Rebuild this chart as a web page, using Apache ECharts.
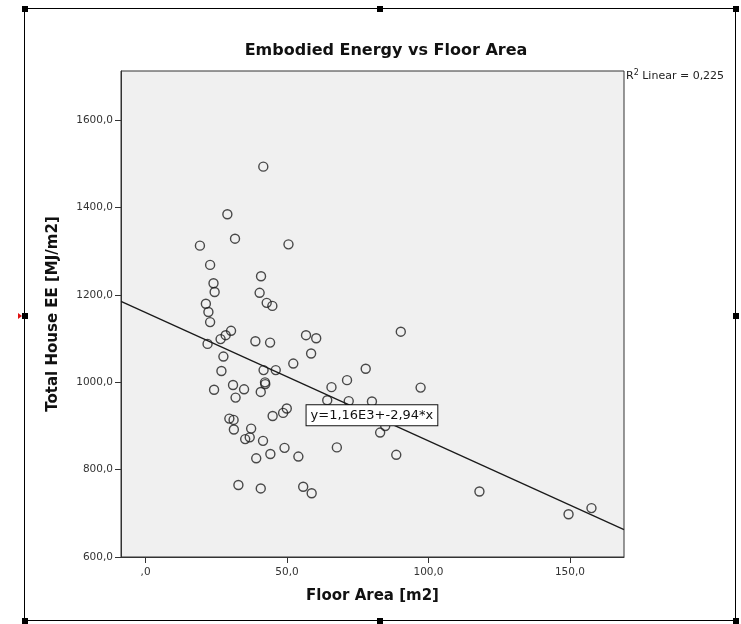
<!DOCTYPE html>
<html>
<head>
<meta charset="utf-8">
<title>Embodied Energy vs Floor Area</title>
<script src="https://cdn.jsdelivr.net/npm/echarts@6/dist/echarts.min.js"></script>
<style>
  html, body { margin: 0; padding: 0; background: #ffffff; }
  #chart { width: 741px; height: 624px; }
</style>
</head>
<body>
<div id="chart"></div>
<script>
// Floor area (m2) and total house embodied energy (MJ/m2), one entry per house
const floorArea = [
  41.6, 28.9, 31.6, 19.2, 50.5, 22.8, 40.8, 24.0, 24.4, 40.3,
  42.8, 44.8, 21.3, 22.2, 22.8, 30.2, 28.3, 26.5, 21.9, 38.8,
  44.0, 56.7, 60.3, 58.5, 27.5, 52.2, 26.8, 41.7, 46.0, 42.2,
  42.3, 30.9, 34.8, 24.2, 40.7, 31.8, 49.9, 48.6, 44.9, 29.6,
  31.1, 31.2, 37.3, 36.8, 35.2, 41.5, 49.1, 44.1, 39.1, 54.0,
  32.8, 40.7, 55.7, 58.7, 90.2, 77.8, 71.2, 65.7, 97.2, 64.2,
  71.8, 80.0, 84.7, 82.9, 67.6, 88.6, 118.0, 149.5, 157.6
];
const totalEE = [
  1494, 1385, 1329, 1313, 1316, 1269, 1243, 1227, 1207, 1205,
  1182, 1175, 1180, 1161, 1138, 1118, 1108, 1099, 1088, 1094,
  1091, 1108, 1101, 1066, 1059, 1043, 1026, 1028, 1028, 1000,
  996, 994, 984, 983, 978, 965, 940, 930, 923, 917,
  914, 892, 894, 874, 870, 866, 850, 836, 826, 830,
  765, 757, 761, 746, 1116, 1031, 1005, 989, 988, 959,
  957, 956, 900, 885, 851, 834, 750, 698, 712
];

// Axis ticks and their labels (decimal comma)
const xTickValues = [0, 50, 100, 150];
const xTickLabels = [',0', '50,0', '100,0', '150,0'];
const yTickValues = [600, 800, 1000, 1200, 1400, 1600];
const yTickLabels = ['600,0', '800,0', '1000,0', '1200,0', '1400,0', '1600,0'];

// Linear fit
const fitIntercept = 1160;
const fitSlope = -2.94;
const fitEquation = 'y=1,16E3+-2,94*x';
const fitRSquared = '0,225';

const xMin = -8.7, xMax = 169.1;
const yMin = 600, yMax = 1713;

const fitAt = x => fitIntercept + fitSlope * x;
const points = floorArea.map((x, i) => [x, totalEE[i]]);
const fitLine = [[xMin, fitAt(xMin)], [xMax, fitAt(xMax)]];
const labelX = 80;

const FONT = 'DejaVu Sans';
const labelFor = (values, labels) => v => {
  const i = values.findIndex(t => Math.abs(t - v) < 1e-6);
  return i >= 0 ? labels[i] : '';
};

// Outer selection frame with its handles (half-pixel offsets keep the 1px line crisp)
const frame = { x1: 24.5, y1: 8.5, x2: 735.5, y2: 620.5 };
const handleSize = 6;
const midX = 380, midY = 316;
const handleSpots = [
  [frame.x1, frame.y1], [midX, frame.y1], [frame.x2, frame.y1],
  [frame.x1, midY], [frame.x2, midY],
  [frame.x1, frame.y2], [midX, frame.y2], [frame.x2, frame.y2]
];
const graphics = [
  {
    type: 'rect', silent: true, z: 1,
    shape: { x: frame.x1, y: frame.y1, width: frame.x2 - frame.x1, height: frame.y2 - frame.y1 },
    style: { fill: null, stroke: '#000', lineWidth: 1 }
  },
  ...handleSpots.map(([cx, cy]) => ({
    type: 'rect', silent: true, z: 2,
    shape: {
      x: Math.round(cx - handleSize / 2), y: Math.round(cy - handleSize / 2),
      width: handleSize, height: handleSize
    },
    style: { fill: '#000' }
  })),
  {
    type: 'polygon', silent: true, z: 2,
    shape: { points: [[18, midY - 3], [22, midY], [18, midY + 3]] },
    style: { fill: '#e01010' }
  },
  {
    type: 'text', silent: true, z: 5,
    left: 626, top: 69,
    style: {
      text: '{r|R}{s|2}{t| Linear = ' + fitRSquared + '}',
      rich: {
        r: { fontFamily: FONT, fontSize: 11, fill: '#222', verticalAlign: 'bottom' },
        s: { fontFamily: FONT, fontSize: 8, fill: '#222', verticalAlign: 'top', padding: [0, 0, 5, 0] },
        t: { fontFamily: FONT, fontSize: 11, fill: '#222', verticalAlign: 'bottom' }
      }
    }
  }
];

const chart = echarts.init(document.getElementById('chart'), null, { renderer: 'canvas' });

chart.setOption({
  animation: false,
  backgroundColor: '#ffffff',
  title: {
    text: 'Embodied Energy vs Floor Area',
    left: 381, top: 38, textAlign: 'center',
    textStyle: { fontFamily: FONT, fontSize: 16, fontWeight: 'bold', color: '#111' }
  },
  grid: {
    left: 121, top: 71, width: 503, height: 486,
    show: true, backgroundColor: '#f0f0f0', borderColor: '#333', borderWidth: 1
  },
  xAxis: {
    type: 'value', min: xMin, max: xMax,
    name: 'Floor Area [m2]', nameLocation: 'middle', nameGap: 32,
    nameTextStyle: { fontFamily: FONT, fontSize: 15, fontWeight: 'bold', color: '#111' },
    axisLine: { show: true, onZero: false, lineStyle: { color: '#333', width: 1 } },
    axisTick: { show: true, inside: false, length: 6, customValues: xTickValues, lineStyle: { color: '#333' } },
    axisLabel: {
      customValues: xTickValues, margin: 10,
      fontFamily: FONT, fontSize: 10.5, color: '#333',
      formatter: labelFor(xTickValues, xTickLabels)
    },
    splitLine: { show: false }
  },
  yAxis: {
    type: 'value', min: yMin, max: yMax,
    name: 'Total House EE [MJ/m2]', nameLocation: 'middle', nameGap: 60,
    nameTextStyle: { fontFamily: FONT, fontSize: 15, fontWeight: 'bold', color: '#111' },
    axisLine: { show: true, onZero: false, lineStyle: { color: '#333', width: 1 } },
    axisTick: { show: true, inside: false, length: 6, customValues: yTickValues, lineStyle: { color: '#333' } },
    axisLabel: {
      customValues: yTickValues, margin: 8,
      fontFamily: FONT, fontSize: 10.5, color: '#333',
      formatter: labelFor(yTickValues, yTickLabels)
    },
    splitLine: { show: false }
  },
  graphic: graphics,
  series: [
    {
      type: 'scatter',
      data: points,
      symbol: 'circle',
      symbolSize: 9,
      itemStyle: { color: 'rgba(0,0,0,0)', borderColor: '#1e1e1e', borderWidth: 1.4 },
      z: 3
    },
    {
      type: 'line',
      data: fitLine,
      symbol: 'none',
      clip: true,
      lineStyle: { color: '#1a1a1a', width: 1.3 },
      z: 4,
      markPoint: {
        symbol: 'rect', symbolSize: 0,
        data: [{ coord: [labelX, fitAt(labelX)], value: fitEquation }],
        label: {
          show: true, position: 'inside',
          formatter: fitEquation,
          fontFamily: FONT, fontSize: 13, color: '#111',
          backgroundColor: '#ffffff', borderColor: '#111', borderWidth: 1,
          padding: [4, 4, 3, 4]
        },
        z: 6
      }
    }
  ]
});
</script>
</body>
</html>
